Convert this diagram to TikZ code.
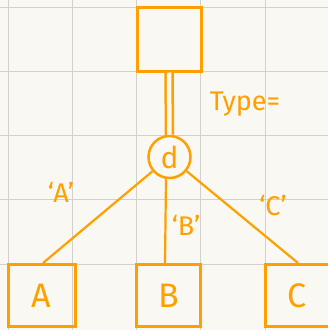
\documentclass[tikz,border=0pt]{standalone}
\usepackage{fontspec}
\setmainfont{Fira Sans}
\definecolor{org}{HTML}{FFA000}
\definecolor{paper}{HTML}{FAF8F3}
\definecolor{gridc}{HTML}{D3CFCA}
\tikzset{
  box/.style={draw=org, line width=3pt, minimum width=64pt, minimum height=62pt, inner sep=0pt, text=org, font=\fontsize{34}{34}\selectfont},
  disc/.style={circle, draw=org, line width=2.5pt, minimum size=42pt, inner sep=0pt, text=org, font=\fontsize{30}{30}\selectfont},
  conn/.style={draw=org, line width=2.2pt},
  lbl/.style={text=org, inner sep=0pt, font=\fontsize{27}{27}\selectfont},
  gridline/.style={draw=gridc, line width=1pt}
}
\begin{document}
\begin{tikzpicture}[x=1pt,y=-1pt]
\fill[paper] (0,0) rectangle (328,330);
\useasboundingbox (0,0) rectangle (328,330);
\foreach \x in {8,72.25,136.5,200.75,265} \draw[gridline] (\x,0) -- (\x,330);
\foreach \y in {7,71.25,135.5,199.75,264} \draw[gridline] (0,\y) -- (328,\y);
\node[box, minimum height=64pt] (top) at (169,39) {};
\node[disc] (d) at (169.5,157) {d};
\node[box, minimum width=67pt] (A) at (41.5,295.5) {A};
\node[box] (B) at (168.5,295.5) {B};
\node[box] (C) at (297,295.5) {C};
\draw[conn, line width=2.5pt, double=paper, double distance=4.5pt] (top.south) -- (d.north);
\draw[conn] (d) -- ([xshift=1.5pt]A.north);
\draw[conn] ([xshift=-3.5pt]d.south) -- ([xshift=-3.5pt]B.north);
\draw[conn] (d) -- ([xshift=1pt]C.north);
\node[lbl] (la) at (61,192) {‘A’};
\node[lbl] (lb) at (186,225) {‘B’};
\node[lbl] (lc) at (273,205) {‘C’};
\node[lbl] (type) at (245,104) {Type=};
\end{tikzpicture}
\end{document}
